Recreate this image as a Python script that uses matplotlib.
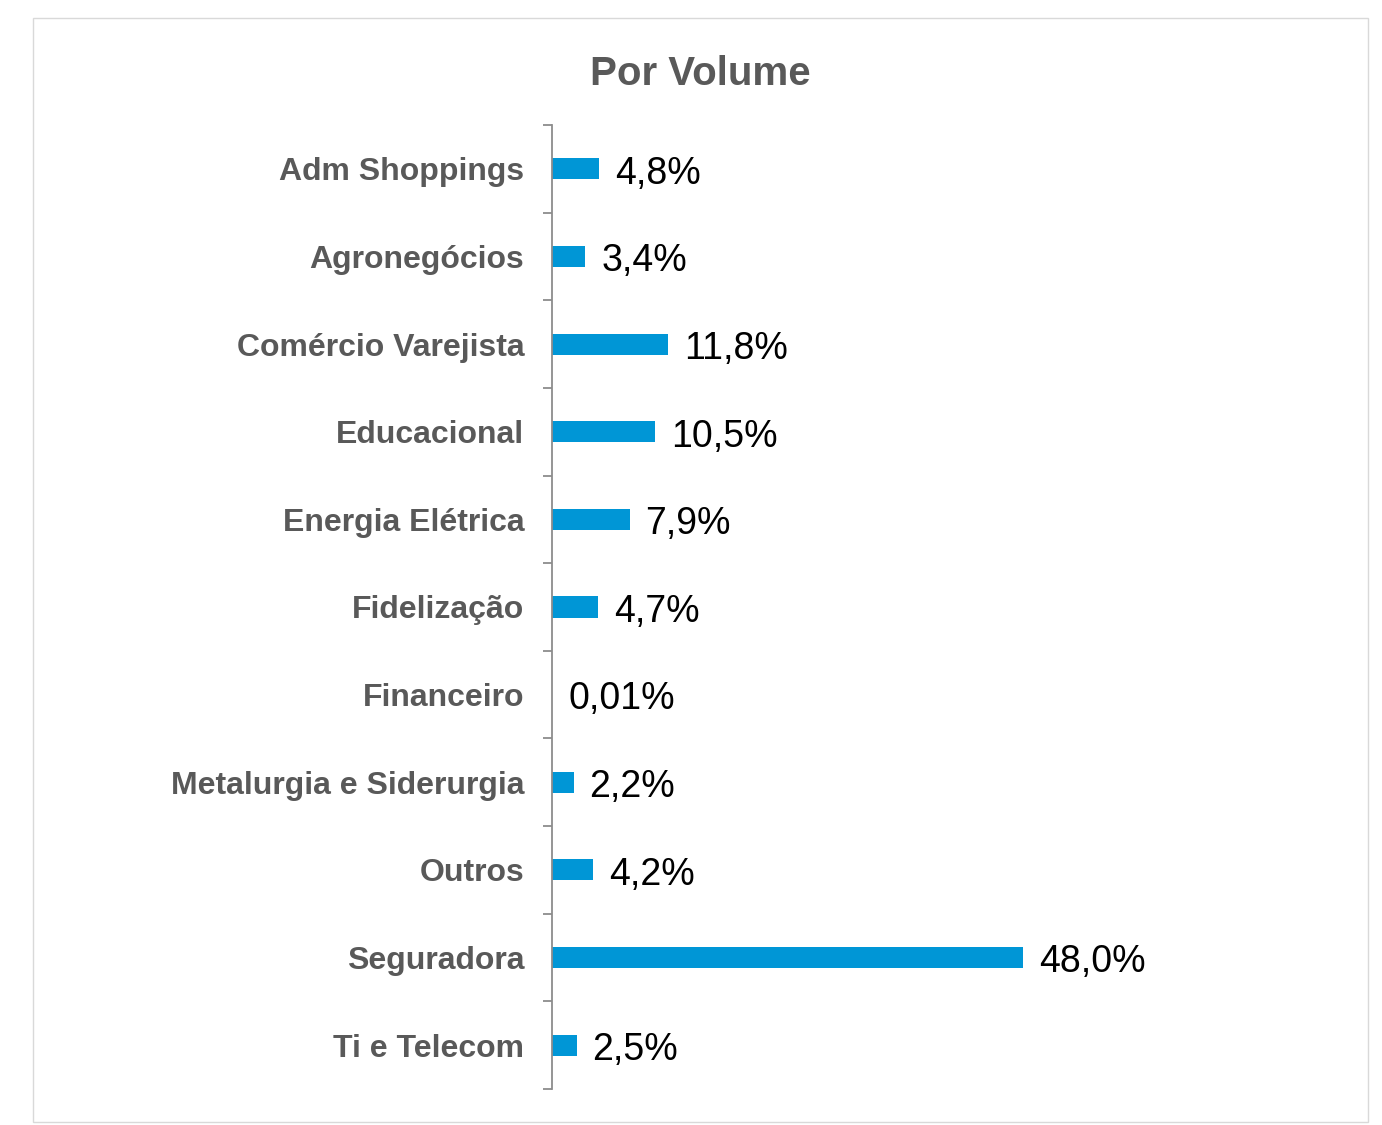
import matplotlib.pyplot as plt
from matplotlib.patches import Rectangle

categories = ["Adm Shoppings", "Agronegócios", "Comércio Varejista", "Educacional",
              "Energia Elétrica", "Fidelização", "Financeiro",
              "Metalurgia e Siderurgia", "Outros", "Seguradora", "Ti e Telecom"]
values = [4.8, 3.4, 11.8, 10.5, 7.9, 4.7, 0.01, 2.2, 4.2, 48.0, 2.5]
value_labels = ["4,8%", "3,4%", "11,8%", "10,5%", "7,9%", "4,7%", "0,01%",
                "2,2%", "4,2%", "48,0%", "2,5%"]

plt.rcParams['font.family'] = ['Liberation Sans', 'DejaVu Sans']

W, H = 1382, 1125
fig = plt.figure(figsize=(W / 100, H / 100), dpi=100)

# light frame around the chart area
fig.patches.append(Rectangle((33 / W, 1 - 1122 / H), (1368 - 33) / W, (1122 - 18) / H,
                             transform=fig.transFigure, fill=False,
                             edgecolor='#D9D9D9', linewidth=1))

ax = fig.add_axes([552 / W, 1 - 1089 / H, 748 / W, 964 / H])
pos = list(range(len(categories)))
ax.barh(pos, values, height=0.24, color='#0096D6')
for p, v, lab in zip(pos, values, value_labels):
    ax.annotate(lab, (v, p), xytext=(11.5, -3.5), textcoords='offset points',
                va='center', ha='left', fontsize=27, color='black')

ax.set_xlim(0, 76.2)
ax.set_ylim(len(categories) - 0.5, -0.5)
ax.set_yticks(pos)
ax.set_yticklabels(categories, fontsize=23, fontweight='bold', color='#595959')
ax.tick_params(axis='y', which='major', length=0, pad=20)
ax.set_yticks([p - 0.5 for p in range(len(categories) + 1)], minor=True)
ax.tick_params(axis='y', which='minor', length=6.5, width=1.3, color='#8C8C8C',
               direction='out')
ax.set_xticks([])
for s in ['top', 'right', 'bottom']:
    ax.spines[s].set_visible(False)
ax.spines['left'].set_color('#8C8C8C')
ax.spines['left'].set_linewidth(1.3)

fig.text(700 / W, 1 - 74 / H, "Por Volume", ha='center', va='center',
         fontsize=29, fontweight='bold', color='#595959')

plt.savefig('out.png', dpi=100)
